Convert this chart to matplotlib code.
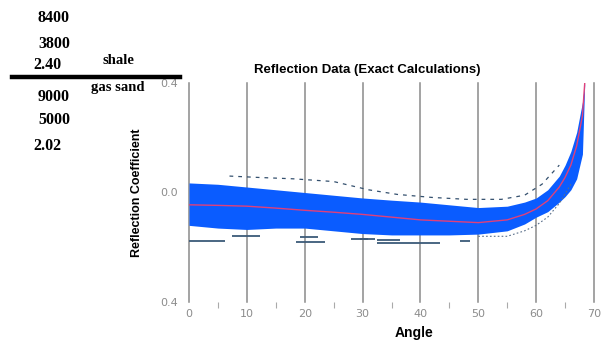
import numpy as np
import matplotlib
matplotlib.use('Agg')
import matplotlib.pyplot as plt

# band of simulated reflection curves (envelope)
angle = [0, 5, 10, 15, 20, 25, 30, 35, 40, 45, 50, 55, 58, 60, 62, 64, 65, 66, 67, 68, 68.4]
upper = [0.035, 0.03, 0.02, 0.01, 0.0, -0.01, -0.02, -0.028, -0.035, -0.045, -0.055, -0.05,
         -0.035, -0.02, 0.01, 0.06, 0.1, 0.15, 0.22, 0.33, 0.4]
lower = [-0.12, -0.13, -0.135, -0.13, -0.13, -0.14, -0.15, -0.155, -0.155, -0.155, -0.152, -0.14,
         -0.115, -0.09, -0.07, -0.035, -0.015, 0.01, 0.05, 0.14, 0.4]
mean = [-0.045, -0.047, -0.05, -0.057, -0.065, -0.072, -0.08, -0.09, -0.1, -0.105, -0.11, -0.1,
        -0.08, -0.06, -0.03, 0.02, 0.055, 0.1, 0.17, 0.28, 0.4]

# outer dashed curves
dash_a = [7, 12, 18, 25, 31, 36, 42, 48, 54, 58, 61, 64]
dash_r = [0.06, 0.055, 0.05, 0.04, 0.01, -0.007, -0.018, -0.025, -0.025, -0.01, 0.03, 0.1]
dot_a = [50, 55, 58, 60, 62, 64, 66]
dot_r = [-0.16, -0.16, -0.14, -0.12, -0.09, -0.04, 0.03]

# stray short segments below the band
seg_r = [-0.178, -0.16, -0.182, -0.164, -0.17, -0.171, -0.186, -0.175, -0.178]
seg_a0 = [0, 7.4, 18.5, 19.2, 28, 29.6, 32.5, 32.5, 46.8]
seg_a1 = [6.2, 12.3, 23.5, 22.3, 31, 32.1, 43.4, 36.5, 48.6]

xticks = [0, 10, 20, 30, 40, 50, 60, 70]
yticks = [-0.4, 0.0, 0.4]
ylabels = ['0.4', '0.0', '0.4']

left_nums = [('8400', 54, 18), ('3800', 54, 44), ('2.40', 47, 65),
             ('9000', 54, 97), ('5000', 54, 120), ('2.02', 47, 146)]
left_words = [('shale', 118, 60), ('gas sand', 118, 87)]

W, H = 606, 345
fig = plt.figure(figsize=(W / 100, H / 100), dpi=100)
ax = fig.add_axes([189 / W, 1 - 302 / H, 405 / W, 219 / H])

blue = '#0a5cff'
ax.fill_between(angle, lower, upper, color=blue, lw=0, zorder=2)
ax.plot(angle, mean, color='#e0407a', lw=1.0, zorder=4)
ax.plot(dash_a, dash_r, color='#34506e', lw=0.9, ls=(0, (3, 4)), zorder=3)
ax.plot(dot_a, dot_r, color='#5a6f8a', lw=0.8, ls=(0, (1.5, 2)), zorder=3)
ax.hlines(seg_r, seg_a0, seg_a1, color='#3c5a78', lw=1.3, zorder=3)

for x in xticks:
    ax.axvline(x, color='#8a8a8a', lw=1.1, zorder=1, clip_on=False)

ax.set_xlim(0, 70)
ax.set_ylim(-0.4, 0.4)
for s in ax.spines.values():
    s.set_visible(False)
ax.set_xticks(xticks)
ax.set_xticks([5, 15, 25, 35, 45, 55, 65], minor=True)
ax.set_yticks(yticks)
ax.set_yticklabels(ylabels)
ax.tick_params(axis='both', which='major', length=0, labelsize=8, labelcolor='#8c8c8c')
ax.tick_params(axis='x', which='major', pad=5)
ax.tick_params(axis='y', which='major', pad=8)
ax.tick_params(axis='x', which='minor', length=4, color='#aaaaaa', width=0.8)

narrow = ['Liberation Sans Narrow', 'Liberation Sans', 'DejaVu Sans']
ax.text(0.44, 1.059, 'Reflection Data (Exact Calculations)', transform=ax.transAxes,
        ha='center', va='center', fontsize=9.5, fontweight='bold', family=narrow)
ax.set_ylabel('Reflection Coefficient', fontsize=9, fontweight='bold', family=narrow)
ax.yaxis.set_label_coords(-0.1136, 0.5)
ax.text(0.556, -0.142, 'Angle', transform=ax.transAxes, ha='center', va='center',
        fontsize=10, fontweight='bold', family=narrow)

serif = ['Liberation Serif', 'DejaVu Serif']
for t, x, y in left_nums:
    fig.text(x / W, 1 - y / H, t, ha='center', va='center', fontsize=11.5,
             fontweight='bold', family=serif)
for t, x, y in left_words:
    fig.text(x / W, 1 - y / H, t, ha='center', va='center', fontsize=10.5,
             fontweight='bold', family=serif)
fig.add_artist(plt.Line2D([12 / W, 180 / W], [1 - 77 / H, 1 - 77 / H], color='black', lw=3.2))

plt.savefig('out.png', dpi=100)
